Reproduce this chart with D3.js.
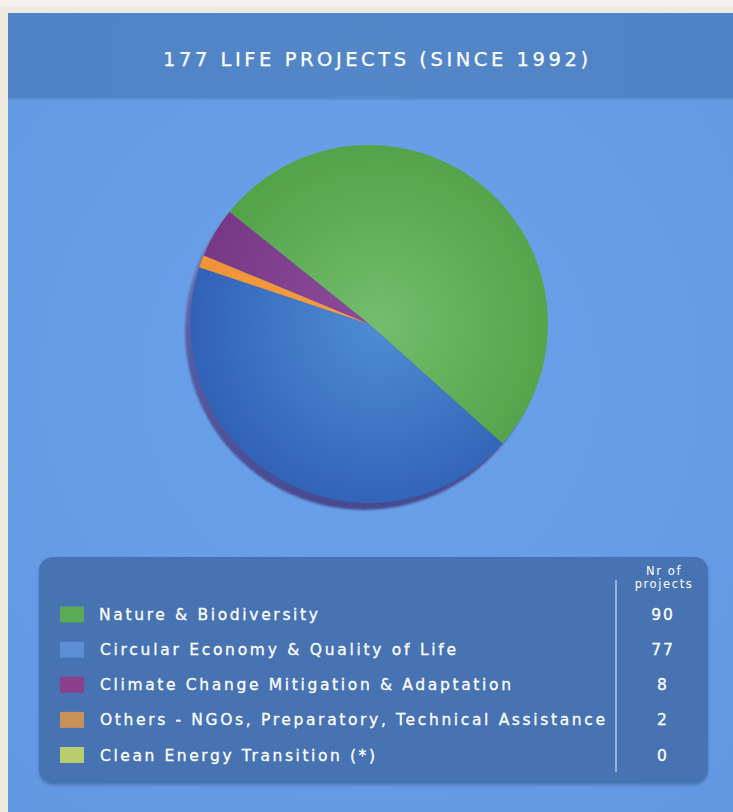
<!DOCTYPE html>
<html><head><meta charset="utf-8">
<script src="https://cdn.jsdelivr.net/npm/d3@7"></script>
<style>html,body{margin:0;padding:0;background:#efebe0;}svg{display:block;}</style>
</head><body>
<svg id="chart" width="733" height="812"></svg>
<script>
const title = "177 LIFE PROJECTS (SINCE 1992)";
const categories = ["Nature & Biodiversity", "Circular Economy & Quality of Life", "Climate Change Mitigation & Adaptation", "Others - NGOs, Preparatory, Technical Assistance", "Clean Energy Transition (*)"];
const values = [90, 77, 8, 2, 0];
const legendColors = ["#5aab55", "#5b8ed4", "#8a3f8a", "#c9905a", "#b9cd6e"];
const sliceInner = ["#74bd6d", "#4f8dd4", "#8e4d9b", "#f7a045", "#c4d878"];
const sliceOuter = ["#52a248", "#3162b7", "#773886", "#ef9335", "#b5ca6a"];
const pieOrder = [0, 1, 4, 3, 2]; // clockwise drawing order
const columnHeader = ["Nr of", "projects"];

const svg = d3.select("#chart");
const W = 733, H = 812;
const defs = svg.append("defs");

// page background
svg.append("rect").attr("x", 0).attr("y", 0).attr("width", W).attr("height", H).attr("fill", "#f3f1ea");
svg.append("rect").attr("x", 0).attr("y", 7).attr("width", W).attr("height", H).attr("fill", "#eeeadf");
const bg = defs.append("radialGradient").attr("id", "bg").attr("gradientUnits", "userSpaceOnUse")
  .attr("cx", 370).attr("cy", 380).attr("r", 520);
bg.append("stop").attr("offset", 0).attr("stop-color", "#6aa2ea");
bg.append("stop").attr("offset", 1).attr("stop-color", "#6399e2");
svg.append("rect").attr("x", 8).attr("y", 13).attr("width", W - 8).attr("height", H - 13).attr("fill", "url(#bg)");

// header band
const hg = defs.append("radialGradient").attr("id", "hg").attr("gradientUnits", "userSpaceOnUse")
  .attr("cx", 370).attr("cy", 60).attr("r", 420);
hg.append("stop").attr("offset", 0).attr("stop-color", "#5487c8");
hg.append("stop").attr("offset", 1).attr("stop-color", "#4f82c4");
svg.append("rect").attr("x", 8).attr("y", 13).attr("width", W - 8).attr("height", 86).attr("fill", "url(#hg)");
svg.append("rect").attr("x", 8).attr("y", 98).attr("width", W - 8).attr("height", 2).attr("fill", "#5a90d6");

svg.append("text").attr("x", 375.5).attr("y", 66).attr("text-anchor", "middle")
  .attr("font-family", "DejaVu Sans").attr("font-size", 19.5).attr("fill", "#ffffff")
  .attr("stroke", "#ffffff").attr("stroke-width", 0.25)
  .attr("textLength", 425).attr("lengthAdjust", "spacing")
  .text(title);

// pie
const cx = 369, cy = 324, R = 179;
const g = svg.append("g").attr("transform", `translate(${cx},${cy})`);

const shG = defs.append("linearGradient").attr("id", "shg").attr("x1", 0).attr("y1", 0).attr("x2", 0).attr("y2", 1);
shG.append("stop").attr("offset", 0).attr("stop-color", "#8a93c0");
shG.append("stop").attr("offset", 0.5).attr("stop-color", "#5a5fa6");
shG.append("stop").attr("offset", 1).attr("stop-color", "#474a90");
const blur = defs.append("filter").attr("id", "blur").attr("x", "-10%").attr("y", "-10%").attr("width", "120%").attr("height", "120%");
blur.append("feGaussianBlur").attr("stdDeviation", 1);
g.append("circle").attr("cx", -5).attr("cy", 7).attr("r", R).attr("fill", "url(#shg)").attr("filter", "url(#blur)");

values.forEach((v, i) => {
  const rg = defs.append("radialGradient").attr("id", "sg" + i).attr("gradientUnits", "userSpaceOnUse")
    .attr("cx", 10).attr("cy", 0).attr("r", R * 1.05);
  rg.append("stop").attr("offset", 0).attr("stop-color", sliceInner[i]);
  rg.append("stop").attr("offset", 1).attr("stop-color", sliceOuter[i]);
});

const startA = -51.2 * Math.PI / 180;
const pie = d3.pie().value(d => d.value)
  .sort((a, b) => pieOrder.indexOf(a.index) - pieOrder.indexOf(b.index))
  .startAngle(startA).endAngle(startA + 2 * Math.PI);
const data = categories.map((c, i) => ({ name: c, value: values[i], index: i }));
const arc = d3.arc().innerRadius(0).outerRadius(R);
g.selectAll("path.slice").data(pie(data).filter(d => d.data.value > 0)).join("path")
  .attr("class", "slice").attr("d", arc)
  .attr("fill", d => `url(#sg${d.data.index})`);

// legend box
const lx = 39, ly = 557, lw = 669, lh = 226;
const lshadow = defs.append("filter").attr("id", "lsh").attr("x", "-5%").attr("y", "-5%").attr("width", "110%").attr("height", "115%");
lshadow.append("feDropShadow").attr("dx", 0).attr("dy", 2).attr("stdDeviation", 1.5).attr("flood-color", "#2d4f86").attr("flood-opacity", 0.5);
svg.append("rect").attr("x", lx).attr("y", ly).attr("width", lw).attr("height", lh).attr("rx", 14)
  .attr("fill", "#4673b3").attr("filter", "url(#lsh)");

const rowY = d3.scalePoint().domain(categories).range([614.5, 755]);
svg.append("line").attr("x1", 616).attr("x2", 616).attr("y1", 580).attr("y2", 772)
  .attr("stroke", "#c9d6ea").attr("stroke-width", 1.3);

svg.append("g").selectAll("text").data(columnHeader).join("text")
  .attr("x", 664).attr("y", (d, i) => 575 + i * 13).attr("text-anchor", "middle")
  .attr("font-family", "DejaVu Sans").attr("font-size", 11.5).attr("letter-spacing", 1.6)
  .attr("fill", "#ffffff").text(d => d);

const labelWidths = [219, 356, 411, 505, 275];
const rows = svg.append("g").selectAll("g").data(categories).join("g")
  .attr("transform", d => `translate(0,${rowY(d)})`);
rows.append("rect").attr("x", 60).attr("y", -8).attr("width", 24).attr("height", 16)
  .attr("fill", (d, i) => legendColors[i]);
rows.append("text").attr("x", (d, i) => i === 0 ? 99 : 100).attr("y", 5.5)
  .attr("font-family", "DejaVu Sans").attr("font-size", 15.5).attr("fill", "#ffffff")
  .attr("stroke", "#ffffff").attr("stroke-width", 0.3)
  .attr("textLength", (d, i) => labelWidths[i]).attr("lengthAdjust", "spacing")
  .text(d => d);
rows.append("text").attr("x", 663).attr("y", 5.5).attr("text-anchor", "middle")
  .attr("font-family", "DejaVu Sans").attr("font-size", 15.5).attr("letter-spacing", 2).attr("fill", "#ffffff")
  .attr("stroke", "#ffffff").attr("stroke-width", 0.3)
  .text((d, i) => values[i]);
</script>
</body></html>
